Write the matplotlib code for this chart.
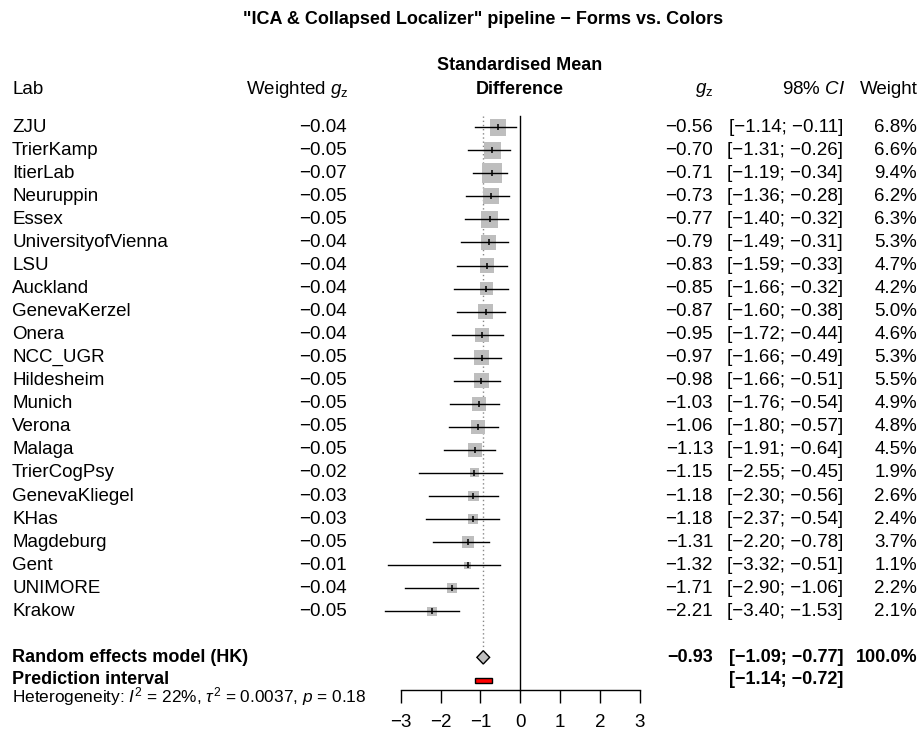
import matplotlib
matplotlib.use("Agg")
import matplotlib.pyplot as plt
import matplotlib.transforms as mtransforms

plt.rcParams["font.family"] = ["Liberation Sans", "DejaVu Sans"]
plt.rcParams["mathtext.fontset"] = "custom"
plt.rcParams["mathtext.rm"] = "Liberation Sans"
plt.rcParams["mathtext.it"] = "Liberation Sans:italic"
plt.rcParams["mathtext.bf"] = "Liberation Sans:bold"

# data
labs = ["ZJU", "TrierKamp", "ItierLab", "Neuruppin", "Essex", "UniversityofVienna",
        "LSU", "Auckland", "GenevaKerzel", "Onera", "NCC_UGR", "Hildesheim", "Munich",
        "Verona", "Malaga", "TrierCogPsy", "GenevaKliegel", "KHas", "Magdeburg", "Gent",
        "UNIMORE", "Krakow"]
weighted_gz = [-0.04, -0.05, -0.07, -0.05, -0.05, -0.04, -0.04, -0.04, -0.04, -0.04,
               -0.05, -0.05, -0.05, -0.05, -0.05, -0.02, -0.03, -0.03, -0.05, -0.01,
               -0.04, -0.05]
gz = [-0.56, -0.70, -0.71, -0.73, -0.77, -0.79, -0.83, -0.85, -0.87, -0.95, -0.97,
      -0.98, -1.03, -1.06, -1.13, -1.15, -1.18, -1.18, -1.31, -1.32, -1.71, -2.21]
ci_lo = [-1.14, -1.31, -1.19, -1.36, -1.40, -1.49, -1.59, -1.66, -1.60, -1.72, -1.66,
         -1.66, -1.76, -1.80, -1.91, -2.55, -2.30, -2.37, -2.20, -3.32, -2.90, -3.40]
ci_hi = [-0.11, -0.26, -0.34, -0.28, -0.32, -0.31, -0.33, -0.32, -0.38, -0.44, -0.49,
         -0.51, -0.54, -0.57, -0.64, -0.45, -0.56, -0.54, -0.78, -0.51, -1.06, -1.53]
weights = [6.8, 6.6, 9.4, 6.2, 6.3, 5.3, 4.7, 4.2, 5.0, 4.6, 5.3, 5.5, 4.9, 4.8, 4.5,
           1.9, 2.6, 2.4, 3.7, 1.1, 2.2, 2.1]

re_est, re_lo, re_hi = -0.93, -1.09, -0.77
pi_lo, pi_hi = -1.14, -0.72
x_ticks = [-3, -2, -1, 0, 1, 2, 3]

title = "\"ICA & Collapsed Localizer\" pipeline \u2212 Forms vs. Colors"
hetero = r"Heterogeneity: $I^2$ = 22%, $\tau^2$ = 0.0037, $p$ = 0.18"


def fmt(v):
    return f"{v:.2f}".replace("-", "\u2212")


W, H = 921, 732
y0, dy = 127.2, 23.05  # pixel centre of first row, row spacing

fig = plt.figure(figsize=(W / 100, H / 100), dpi=100)
ax = fig.add_axes([400.7 / W, 0, (640 - 400.7) / W, 1])
ax.set_xlim(-3, 3)
ax.set_ylim((H - y0) / dy, -y0 / dy)

n = len(labs)
rows = list(range(n))
row_re = n + 1
row_pi = n + 2
row_axis = (689.5 - y0) / dy

# reference lines
ax.plot([re_est, re_est], [-0.5, row_re - 0.35], color="#888888", lw=1.0,
        ls=(0, (1, 2)), zorder=1)
ax.plot([0, 0], [-0.5, row_axis], color="black", lw=1.0, zorder=1)

# study boxes (area ~ weight), CIs, point marks
ax.scatter(gz, rows, s=[(6.5 * 0.72) ** 2 * w for w in weights], marker="s",
           color="#BEBEBE", linewidths=0, zorder=2)
for r, lo, hi in zip(rows, ci_lo, ci_hi):
    ax.plot([lo, hi], [r, r], color="black", lw=1.0, clip_on=False, zorder=3)
ax.scatter(gz, rows, s=4.5 ** 2, marker="|", color="black", linewidths=1.1, zorder=4)

# summary diamond and prediction interval
h = 0.29
ax.fill([re_lo, re_est, re_hi, re_est], [row_re, row_re - h, row_re, row_re + h],
        facecolor="#BEBEBE", edgecolor="black", lw=1.0, zorder=3)
ph = 0.11
ax.fill([pi_lo, pi_hi, pi_hi, pi_lo], [row_pi - ph, row_pi - ph, row_pi + ph, row_pi + ph],
        facecolor="red", edgecolor="black", lw=1.0, zorder=3)

# bottom axis
for s in ["left", "right", "top"]:
    ax.spines[s].set_visible(False)
ax.spines["bottom"].set_position(("data", row_axis))
ax.spines["bottom"].set_linewidth(1.0)
ax.set_yticks([])
ax.set_xticks(x_ticks)
ax.set_xticklabels([str(t).replace("-", "\u2212") for t in x_ticks])
ax.tick_params(axis="x", direction="out", length=9.4, width=1.0, pad=8.5, labelsize=13.5)
ax.patch.set_alpha(0)

# text columns
tr = mtransforms.blended_transform_factory(fig.transFigure, ax.transData)
fs = 13.5
fb = 13.0  # bold text runs a little smaller


def txt(px, r, s, ha="left", **kw):
    ax.text(px / W, r, s, transform=tr, ha=ha, va="center", fontsize=kw.pop("fontsize", fs),
            clip_on=False, **kw)


txt(483, (20 - y0) / dy, title, ha="center", fontweight="bold", fontsize=fb)
r_head = (90 - y0) / dy
txt(12, r_head, "Lab")
txt(349, r_head, r"Weighted $g_\mathrm{z}$", ha="right")
txt(520, (65 - y0) / dy, "Standardised Mean", ha="center", fontweight="bold", fontsize=fb)
txt(520, r_head, "Difference", ha="center", fontweight="bold", fontsize=fb)
txt(713, r_head, r"$g_\mathrm{z}$", ha="right")
txt(845, r_head, r"98% $CI$", ha="right")
txt(918, r_head, "Weight", ha="right")

for r, lab, wg, g, lo, hi, w in zip(rows, labs, weighted_gz, gz, ci_lo, ci_hi, weights):
    txt(12, r, lab)
    txt(347, r, fmt(wg), ha="right")
    txt(713, r, fmt(g), ha="right")
    txt(843, r, f"[{fmt(lo)}; {fmt(hi)}]", ha="right")
    txt(917, r, f"{w:.1f}%", ha="right")

txt(12, row_re, "Random effects model (HK)", fontweight="bold", fontsize=fb)
txt(713, row_re, fmt(re_est), ha="right", fontweight="bold", fontsize=fb)
txt(843, row_re, f"[{fmt(re_lo)}; {fmt(re_hi)}]", ha="right", fontweight="bold", fontsize=fb)
txt(917, row_re, "100.0%", ha="right", fontweight="bold", fontsize=fb)
txt(12, row_pi - 0.05, "Prediction interval", fontweight="bold", fontsize=fb)
txt(843, row_pi - 0.05, f"[{fmt(pi_lo)}; {fmt(pi_hi)}]", ha="right", fontweight="bold", fontsize=fb)
txt(12, (697 - y0) / dy, hetero, fontsize=12.4)

fig.savefig("out.png", dpi=100)
